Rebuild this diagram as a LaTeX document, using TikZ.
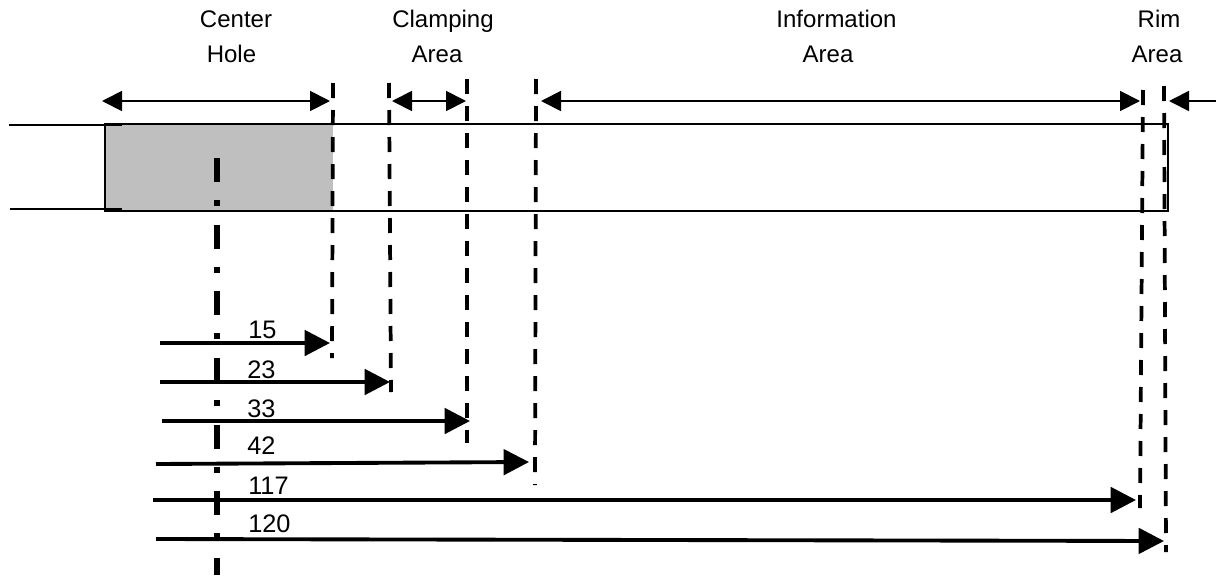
\documentclass[tikz,border=0pt]{standalone}
\usepackage{fontspec}
\setmainfont{Liberation Sans}
\usetikzlibrary{arrows.meta}
\tikzset{
  x=0.75pt,y=-0.75pt,
  lbl/.style={inner sep=0pt,font=\fontsize{18}{18}\selectfont,anchor=base},
  dim/.style={inner sep=0pt,font=\fontsize{19}{19}\selectfont,anchor=base west},
  thinl/.style={line width=1.3pt},
  cut/.style={line width=2.8pt,dash pattern=on 11.25pt off 9pt},
  axisl/.style={line width=4.4pt,dash pattern=on 18pt off 13.5pt on 4.5pt off 14pt},
  toparrow/.style={line width=1.4pt,{Triangle[length=15pt,width=15pt]}-{Triangle[length=15pt,width=15pt]}},
  longarrow/.style={line width=2.9pt,-{Triangle[length=19pt,width=19pt]}},
}
\begin{document}
\begin{tikzpicture}
\useasboundingbox (0,0) rectangle (1216,575);
\fill[white] (0,0) rectangle (1216,575);
\fill[black!25] (105,124) rectangle (333,211);
% disc outline
\coordinate (tl) at (105,124); \coordinate (tr) at (1168,124);
\coordinate (bl) at (105,211); \coordinate (br) at (1168,211);
\draw[thinl] (tr) -- (tl) -- (bl) -- (br) -- cycle;
\coordinate (la) at (9,125); \coordinate (lb) at (122,125);
\coordinate (lc) at (10,209); \coordinate (ld) at (122,209);
\draw[thinl] (la) -- (lb);
\draw[thinl] (lc) -- (ld);
% cut lines
\coordinate (c1a) at (333,83);  \coordinate (c1b) at (332,358);
\coordinate (c2a) at (389,83);  \coordinate (c2b) at (391,392);
\coordinate (c3a) at (467,79);  \coordinate (c3b) at (467,443);
\coordinate (c4a) at (536,79);  \coordinate (c4b) at (535,485);
\coordinate (c5a) at (1143,90); \coordinate (c5b) at (1140,508);
\coordinate (c6a) at (1164,86); \coordinate (c6b) at (1166,552);
\foreach \n in {1,...,6} \draw[cut] (c\n a) -- (c\n b);
% axis
\coordinate (axa) at (217,158); \coordinate (axb) at (217,575);
\draw[axisl] (axa) -- (axb);
% top arrows
\coordinate (t1a) at (102,101); \coordinate (t1b) at (330,101);
\coordinate (t2a) at (392,101); \coordinate (t2b) at (466,101);
\coordinate (t3a) at (541,101); \coordinate (t3b) at (1140,101);
\draw[toparrow] (t1a) -- (t1b);
\draw[toparrow] (t2a) -- (t2b);
\draw[toparrow] (t3a) -- (t3b);
\coordinate (t4a) at (1216,101); \coordinate (t4b) at (1169,101);
\draw[line width=1.4pt,-{Triangle[length=15pt,width=15pt]}] (t4a) -- (t4b);
% long arrows
\coordinate (a1a) at (160,343); \coordinate (a1b) at (330,343);
\coordinate (a2a) at (160,382); \coordinate (a2b) at (390,382);
\coordinate (a3a) at (162,421); \coordinate (a3b) at (470,421);
\coordinate (a4a) at (156,464); \coordinate (a4b) at (529,462);
\coordinate (a5a) at (153,500); \coordinate (a5b) at (1136,500);
\coordinate (a6a) at (156,539); \coordinate (a6b) at (1164,541);
\foreach \n in {1,...,6} \draw[longarrow] (a\n a) -- (a\n b);
% labels
\node[dim] (n15) at (248,338) {15};
\node[dim] (n23) at (247,378) {23};
\node[dim] (n33) at (247,417) {33};
\node[dim] (n42) at (247,454) {42};
\node[dim] (n117) at (248,494) {117};
\node[dim] (n120) at (248,532) {120};
\node[lbl] (h1a) at (236,27) {Center};
\node[lbl] (h1b) at (231.5,62) {Hole};
\node[lbl] (h2a) at (443,27) {Clamping};
\node[lbl] (h2b) at (437,62) {Area};
\node[lbl] (h3a) at (836.5,27) {Information};
\node[lbl] (h3b) at (828,62) {Area};
\node[lbl] (h4a) at (1159,27) {Rim};
\node[lbl] (h4b) at (1157,62) {Area};
\end{tikzpicture}
\end{document}
